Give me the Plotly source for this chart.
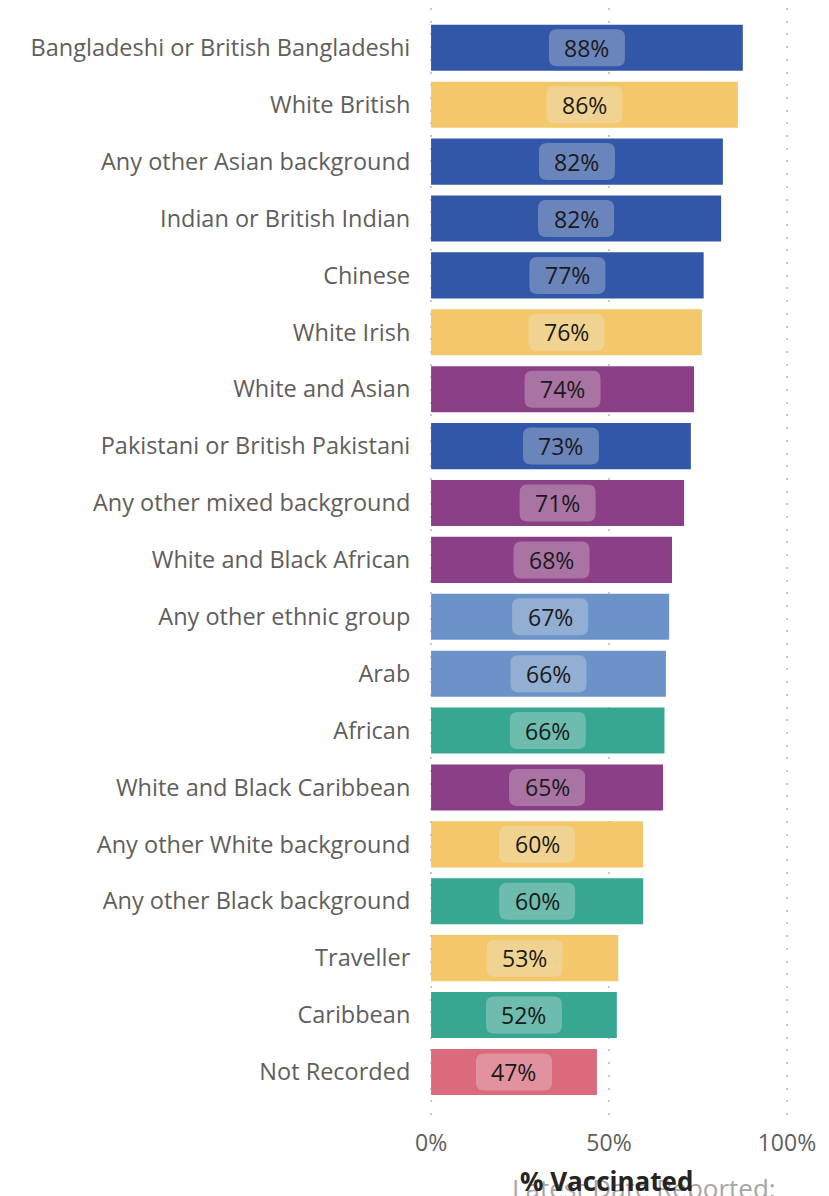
import plotly.graph_objects as go

categories = [
    "Bangladeshi or British Bangladeshi", "White British", "Any other Asian background",
    "Indian or British Indian", "Chinese", "White Irish", "White and Asian",
    "Pakistani or British Pakistani", "Any other mixed background", "White and Black African",
    "Any other ethnic group", "Arab", "African", "White and Black Caribbean",
    "Any other White background", "Any other Black background", "Traveller", "Caribbean",
    "Not Recorded",
]
values = [87.6, 86.2, 82.0, 81.5, 76.6, 76.1, 73.9, 73.0, 71.1, 67.7,
          66.9, 66.0, 65.6, 65.2, 59.6, 59.6, 52.6, 52.2, 46.6]
groups = ["Asian", "White", "Asian", "Asian", "Asian", "White", "Mixed", "Asian", "Mixed", "Mixed",
          "Other", "Other", "Black", "Mixed", "White", "Black", "White", "Black", "Unknown"]
tick_vals = [0, 50, 100]
tick_text = ["0%", "50%", "100%"]

group_colors = {
    "Asian": "#3257A8",
    "White": "#F3C76A",
    "Mixed": "#8B3F86",
    "Other": "#6B93C9",
    "Black": "#37A792",
    "Unknown": "#DB6A7D",
}

FONT = "Open Sans"
GRAY = "#605E5C"

fig = go.Figure(go.Bar(
    x=values, y=categories, orientation="h",
    marker=dict(color=[group_colors[g] for g in groups], line=dict(width=0)),
    hoverinfo="skip",
))

w, h, r = 76, 37, 8
hw, hh = w / 2, h / 2
path = (f"M {-hw + r},{-hh} L {hw - r},{-hh} Q {hw},{-hh} {hw},{-hh + r} "
        f"L {hw},{hh - r} Q {hw},{hh} {hw - r},{hh} L {-hw + r},{hh} "
        f"Q {-hw},{hh} {-hw},{hh - r} L {-hw},{-hh + r} Q {-hw},{-hh} {-hw + r},{-hh} Z")

shapes = []
annotations = []
for c, v in zip(categories, values):
    shapes.append(dict(
        type="path", xref="x", yref="y", xsizemode="pixel", ysizemode="pixel",
        xanchor=v / 2, yanchor=c, path=path,
        fillcolor="rgba(240,240,235,0.3)", line=dict(width=0), layer="above",
    ))
    annotations.append(dict(
        x=v / 2, y=c, xref="x", yref="y", text=f"{round(v)}%", showarrow=False,
        font=dict(family=FONT, size=23, color="#1a1a1a"), yshift=0,
    ))

annotations.append(dict(
    x=0.598, y=0.0, xref="paper", yref="paper", yanchor="top", xanchor="center",
    text="Latest Date Reported:", showarrow=False, yshift=-46,
    font=dict(family=FONT, size=26, color="#A6A6A6"),
))
annotations.append(dict(
    x=0.494, y=0.0, xref="paper", yref="paper", yanchor="top", xanchor="center",
    text="<b>% Vaccinated</b>", showarrow=False, yshift=-39,
    font=dict(family=FONT, size=26, color="#252423"),
))

fig.update_layout(
    width=821, height=1188,
    margin=dict(l=422, r=41, t=0, b=74),
    plot_bgcolor="white", paper_bgcolor="white",
    bargap=0.19,
    showlegend=False,
    shapes=shapes,
    annotations=annotations,
    xaxis=dict(
        range=[-0.3, 100.3], tickvals=tick_vals, ticktext=tick_text,
        showgrid=True, gridcolor="#C8C8C8", gridwidth=2, griddash="2px,10.7px",
        zeroline=False, showline=False,
        tickfont=dict(family=FONT, size=23, color=GRAY),
        ticks="outside", ticklen=0, tickcolor="rgba(0,0,0,0)",
    ),
    yaxis=dict(
        range=[18.88, -0.70], showgrid=False, zeroline=False, showline=False,
        tickfont=dict(family=FONT, size=23.5, color=GRAY),
        ticks="outside", ticklen=14, tickcolor="rgba(0,0,0,0)",
        automargin=False,
    ),
)

fig.write_html("out.html")
